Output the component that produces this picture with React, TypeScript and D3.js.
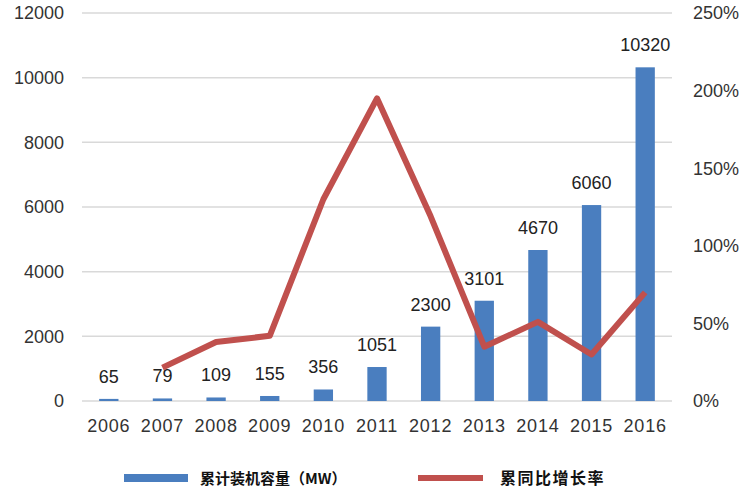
import React from "react";
import * as d3 from "d3";

const years = ["2006", "2007", "2008", "2009", "2010", "2011", "2012", "2013", "2014", "2015", "2016"];
const capacity = [65, 79, 109, 155, 356, 1051, 2300, 3101, 4670, 6060, 10320];
const growthYears = ["2007", "2008", "2009", "2010", "2011", "2012", "2013", "2014", "2015", "2016"];
const growth = [21.5, 38, 42, 130, 195, 119, 35, 51, 30, 70];
const leftTicks = [0, 2000, 4000, 6000, 8000, 10000, 12000];
const rightTicks = [0, 50, 100, 150, 200, 250];
const legendLabels = ["累计装机容量（MW）", "累同比增长率"];

const W = 747;
const H = 490;
const left = 82;
const right = 672;
const top = 13;
const bottom = 401;
const BLUE = "#4a7ebf";
const RED = "#c0504d";
const FONT = "'Liberation Sans', Arial, sans-serif";

export default function App() {
  const x = d3.scaleBand<string>().domain(years).range([left, right]).paddingInner(0.64).paddingOuter(0.32);
  const yL = d3.scaleLinear().domain([0, 12000]).range([bottom, top]);
  const yR = d3.scaleLinear().domain([0, 250]).range([bottom, top]);
  const cx = (yr: string) => (x(yr) as number) + x.bandwidth() / 2;
  const line = d3
    .line<number>()
    .x((_, i) => cx(growthYears[i]))
    .y((d) => yR(d));

  return (
    <svg
      width={W}
      height={H}
      style={{ position: "absolute", left: 0, top: 0, background: "#fff" }}
      fontFamily={FONT}
    >
      <rect width={W} height={H} fill="#fff" />
      {leftTicks.map((t) => (
        <line key={t} x1={left} x2={right} y1={yL(t)} y2={yL(t)} stroke="#d9d9d9" strokeWidth={1.5} />
      ))}
      {leftTicks.map((t) => (
        <text key={t} x={64} y={yL(t)} dy="0.36em" textAnchor="end" fontSize={18} fill="#333">
          {t}
        </text>
      ))}
      {rightTicks.map((t) => (
        <text key={t} x={693} y={yR(t)} dy="0.36em" textAnchor="start" fontSize={18} fill="#333">
          {t + "%"}
        </text>
      ))}
      {years.map((yr, i) => (
        <g key={yr}>
          <rect
            x={x(yr)}
            y={yL(capacity[i])}
            width={x.bandwidth()}
            height={bottom - yL(capacity[i])}
            fill={BLUE}
          />
          <text x={cx(yr)} y={yL(capacity[i]) - 16} textAnchor="middle" fontSize={18} fill="#222">
            {capacity[i]}
          </text>
          <text x={cx(yr)} y={432} textAnchor="middle" fontSize={18} letterSpacing={0.8} fill="#333">
            {yr}
          </text>
        </g>
      ))}
      <path d={line(growth) || ""} fill="none" stroke={RED} strokeWidth={6} strokeLinejoin="round" />
      <rect x={124} y={474} width={64} height={8} fill={BLUE} />
      <text x={200} y={484} fontSize={15} fontWeight="bold" fontFamily="'Noto Sans CJK SC', sans-serif" fill="#111">
        {legendLabels[0]}
      </text>
      <rect x={418} y={475} width={65} height={6} fill={RED} />
      <text x={500} y={484} fontSize={16} fontWeight="bold" fontFamily="'Noto Sans CJK SC', sans-serif" fill="#111" letterSpacing={1.5}>
        {legendLabels[1]}
      </text>
    </svg>
  );
}
